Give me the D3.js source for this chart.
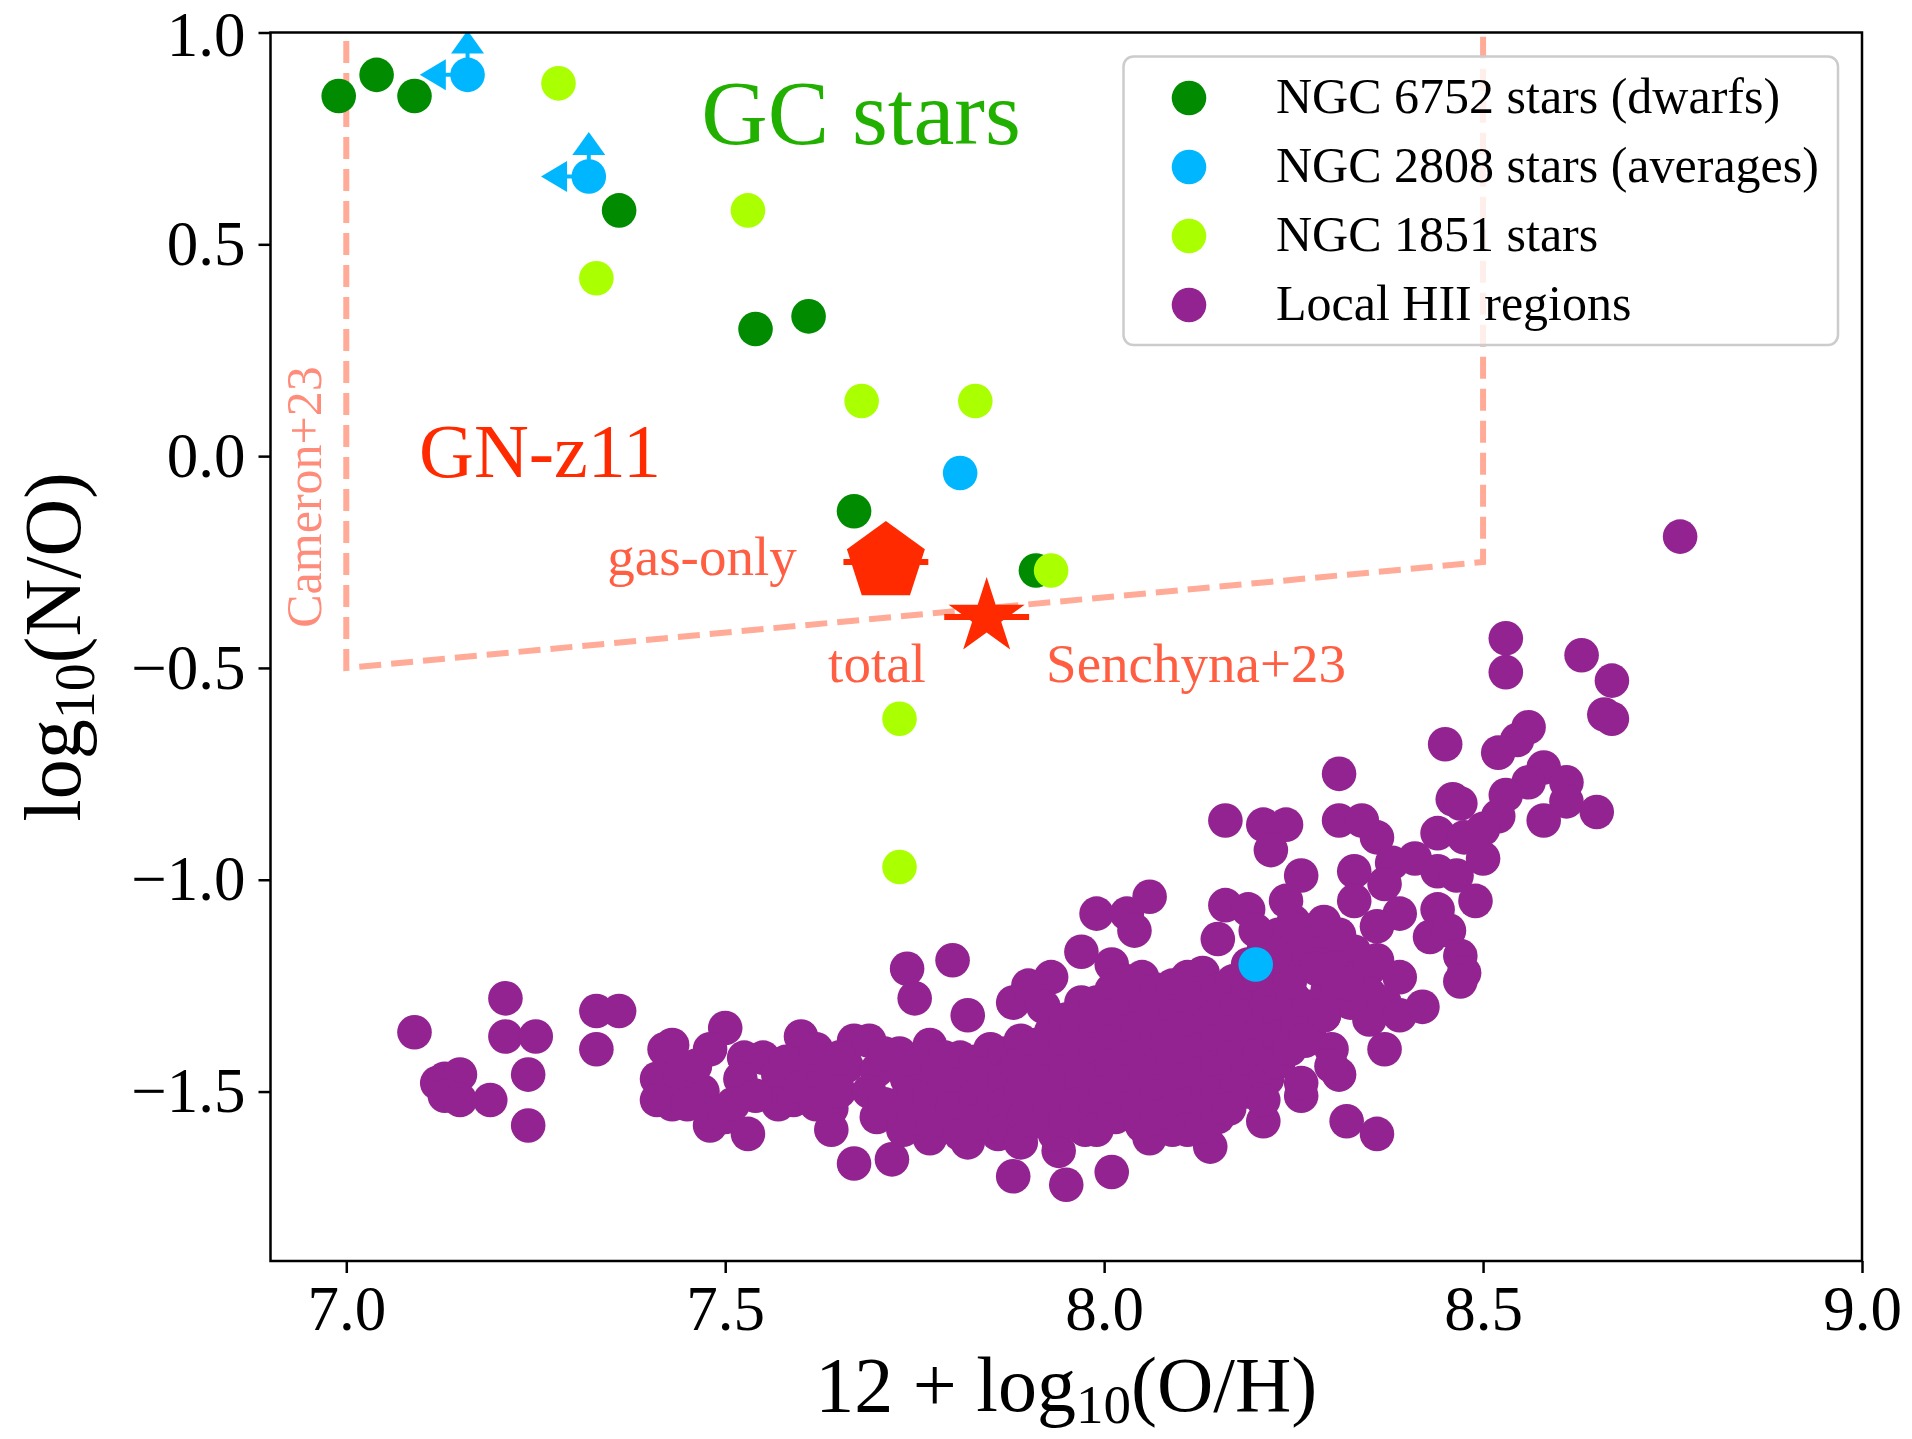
<!DOCTYPE html>
<html>
<head>
<meta charset="utf-8">
<script src="https://cdn.jsdelivr.net/npm/d3@7"></script>
<style>
  body { margin: 0; background: #fff; }
  svg { display: block; }
  text { font-family: "Liberation Serif", "Times New Roman", serif; }
</style>
</head>
<body>
<svg id="chart" width="1912" height="1439"></svg>
<script>
// ---- Globular-cluster stars: 12 + log10(O/H) and log10(N/O) ----
const ngc6752OH = [6.99, 7.04, 7.09, 7.36, 7.54, 7.61, 7.67, 7.91];
const ngc6752NO = [0.85, 0.90, 0.85, 0.58, 0.30, 0.33, -0.13, -0.27];

const ngc2808OH = [7.16, 7.32, 7.81, 8.20];
const ngc2808NO = [0.90, 0.66, -0.04, -1.20];
const ngc2808Limit = [true, true, false, false];   // upper limit in O/H, lower limit in N/O
const limitLenOH = 0.063;
const limitLenNO = 0.105;

const ngc1851OH = [7.28, 7.33, 7.53, 7.68, 7.83, 7.93, 7.73, 7.73];
const ngc1851NO = [0.88, 0.42, 0.58, 0.13, 0.13, -0.27, -0.62, -0.97];

// ---- GN-z11 (gas-only and total abundances) ----
const gnz11Labels = ["gas-only", "total"];
const gnz11OH = [7.712, 7.845];
const gnz11NO = [-0.25, -0.38];
const gnz11ErrOH = [0.056, 0.056];

// ---- Region boundaries from the literature ----
const cameronBoundOH = [7.0, 7.0, 8.5, 8.5];
const cameronBoundNO = [0.98, -0.5, -0.25, 0.99];

// ---- Local HII regions [12+log(O/H), log(N/O)] ----
const hiiRegions = [
  [7.09,-1.36],[7.21,-1.28],[7.21,-1.37],[7.25,-1.37],[7.24,-1.46],[7.24,-1.58],[7.19,-1.52],
  [7.12,-1.48],[7.13,-1.47],[7.15,-1.46],[7.13,-1.51],[7.15,-1.52],
  [7.33,-1.31],[7.36,-1.31],[7.33,-1.40],
  [7.42,-1.40],[7.43,-1.39],[7.41,-1.47],[7.44,-1.46],[7.41,-1.52],[7.43,-1.53],[7.47,-1.50],
  [7.48,-1.58],[7.49,-1.55],[7.53,-1.60],[7.50,-1.35],[7.48,-1.40],
  [7.55,-1.42],[7.57,-1.46],[7.57,-1.53],[7.59,-1.52],[7.61,-1.46],[7.60,-1.37],[7.525,-1.42],[7.50,-1.56],
  [7.46,-1.44],[7.52,-1.47],[7.54,-1.51],[7.58,-1.43],[7.60,-1.49],[7.45,-1.53],[7.51,-1.53],
  [7.67,-1.38],[7.66,-1.44],[7.64,-1.54],[7.64,-1.59],[7.67,-1.67],
  [7.74,-1.21],[7.80,-1.19],[7.75,-1.28],[7.82,-1.32],[7.88,-1.29],[7.90,-1.25],[7.93,-1.23],
  [7.92,-1.30],[7.97,-1.17],[8.01,-1.20],[7.99,-1.08],[8.03,-1.08],[8.04,-1.12],[8.06,-1.04],
  [7.88,-1.70],[7.95,-1.72],[8.01,-1.69],[7.72,-1.66],[8.14,-1.63],[8.21,-1.57],[8.26,-1.51],
  [8.06,-1.61],[8.09,-1.59],[7.77,-1.61],[7.82,-1.62],[7.86,-1.60],[7.94,-1.64],
  [7.62,-1.40],[7.63,-1.47],[7.62,-1.53],[7.65,-1.42],[7.65,-1.50],
  [7.69,-1.38],[7.70,-1.45],[7.69,-1.50],[7.70,-1.56],[7.71,-1.41],[7.71,-1.53],
  [7.73,-1.41],[7.74,-1.47],[7.73,-1.53],[7.735,-1.59],[7.75,-1.44],[7.75,-1.50],[7.75,-1.56],
  [7.77,-1.39],[7.78,-1.45],[7.77,-1.51],[7.775,-1.57],[7.79,-1.42],[7.79,-1.48],[7.79,-1.57],
  [7.81,-1.42],[7.815,-1.48],[7.80,-1.54],[7.81,-1.60],[7.83,-1.43],[7.83,-1.51],[7.83,-1.57],
  [7.85,-1.40],[7.84,-1.46],[7.855,-1.52],[7.85,-1.58],
  [7.87,-1.41],[7.87,-1.47],[7.87,-1.53],[7.87,-1.59],
  [7.89,-1.38],[7.885,-1.44],[7.89,-1.50],[7.895,-1.56],[7.89,-1.62],
  [7.91,-1.39],[7.91,-1.45],[7.91,-1.51],[7.91,-1.57],
  [7.93,-1.36],[7.935,-1.42],[7.925,-1.48],[7.93,-1.54],[7.935,-1.60],
  [7.95,-1.33],[7.95,-1.39],[7.95,-1.45],[7.95,-1.51],[7.95,-1.57],
  [7.97,-1.29],[7.965,-1.35],[7.975,-1.41],[7.97,-1.47],[7.965,-1.53],[7.975,-1.59],
  [7.99,-1.29],[7.99,-1.35],[7.99,-1.41],[7.99,-1.47],[7.99,-1.53],[7.99,-1.59],
  [8.01,-1.26],[8.005,-1.32],[8.015,-1.38],[8.01,-1.44],[8.005,-1.50],[8.015,-1.56],
  [8.03,-1.24],[8.03,-1.30],[8.03,-1.36],[8.03,-1.42],[8.03,-1.48],[8.03,-1.54],
  [8.05,-1.23],[8.055,-1.29],[8.045,-1.35],[8.05,-1.41],[8.055,-1.47],[8.045,-1.53],[8.05,-1.58],
  [8.07,-1.26],[8.07,-1.32],[8.07,-1.38],[8.07,-1.44],[8.07,-1.50],[8.07,-1.56],
  [8.09,-1.25],[8.095,-1.31],[8.085,-1.37],[8.09,-1.43],[8.095,-1.49],[8.085,-1.55],
  [8.11,-1.23],[8.11,-1.29],[8.11,-1.35],[8.11,-1.41],[8.11,-1.47],[8.11,-1.53],[8.11,-1.59],
  [8.13,-1.22],[8.125,-1.28],[8.135,-1.34],[8.13,-1.40],[8.125,-1.46],[8.135,-1.52],[8.13,-1.58],
  [8.15,-1.26],[8.15,-1.32],[8.15,-1.38],[8.15,-1.44],[8.15,-1.50],[8.15,-1.56],
  [8.17,-1.24],[8.175,-1.30],[8.165,-1.36],[8.17,-1.42],[8.175,-1.48],[8.165,-1.54],
  [8.19,-1.20],[8.19,-1.26],[8.19,-1.32],[8.19,-1.38],[8.19,-1.44],[8.19,-1.50],
  [8.21,-1.17],[8.205,-1.23],[8.215,-1.29],[8.21,-1.35],[8.205,-1.41],[8.215,-1.47],[8.21,-1.52],
  [8.23,-1.13],[8.23,-1.19],[8.23,-1.25],[8.23,-1.31],[8.23,-1.37],[8.23,-1.43],
  [8.25,-1.10],[8.255,-1.16],[8.245,-1.22],[8.25,-1.28],[8.255,-1.34],[8.245,-1.40],
  [8.27,-1.12],[8.27,-1.18],[8.27,-1.30],[8.27,-1.36],
  [8.29,-1.14],[8.285,-1.20],[8.295,-1.26],[8.29,-1.32],[8.31,-1.20],[8.31,-1.26],
  [8.33,-1.17],[8.335,-1.23],[8.325,-1.29],[8.35,-1.21],[8.35,-1.27],[8.35,-1.33],
  [8.53,-0.43],[8.53,-0.51],[8.63,-0.47],[8.67,-0.53],[8.66,-0.61],[8.67,-0.62],[8.56,-0.64],
  [8.545,-0.67],[8.45,-0.68],[8.52,-0.70],[8.58,-0.735],[8.56,-0.77],[8.61,-0.77],[8.53,-0.80],
  [8.61,-0.815],[8.65,-0.84],[8.58,-0.86],[8.52,-0.85],[8.31,-0.75],[8.46,-0.81],[8.47,-0.82],
  [8.44,-0.89],[8.475,-0.90],[8.50,-0.88],[8.16,-0.86],[8.21,-0.87],[8.24,-0.87],[8.22,-0.93],
  [8.31,-0.86],[8.34,-0.86],[8.36,-0.90],[8.26,-0.99],[8.33,-0.98],[8.38,-0.96],[8.41,-0.95],
  [8.44,-0.98],[8.465,-0.99],[8.50,-0.95],[8.49,-1.05],[8.44,-1.07],[8.33,-1.05],[8.37,-1.01],
  [8.39,-1.08],[8.36,-1.11],[8.16,-1.06],[8.19,-1.07],[8.24,-1.05],[8.15,-1.14],[8.20,-1.12],
  [8.29,-1.10],[8.31,-1.13],[8.43,-1.135],[8.455,-1.12],[8.47,-1.18],[8.475,-1.22],[8.47,-1.24],
  [8.36,-1.19],[8.39,-1.23],[8.32,-1.245],[8.37,-1.29],[8.39,-1.32],[8.42,-1.30],[8.29,-1.32],
  [8.37,-1.40],[8.30,-1.40],[8.31,-1.46],[8.26,-1.48],[8.32,-1.57],[8.36,-1.60],
  [8.255,-1.15],[8.28,-1.21],[8.245,-1.24],[8.225,-1.18],[8.265,-1.38],[8.30,-1.44],
  [8.76,-0.19]
];

// ---- Axes ----
const xDomain = [6.9, 9.0];
const yDomain = [-1.9, 1.0];
const xTicks = [7.0, 7.5, 8.0, 8.5, 9.0];
const yTicks = [-1.5, -1.0, -0.5, 0.0, 0.5, 1.0];

const legendLabels = ["NGC 6752 stars (dwarfs)", "NGC 2808 stars (averages)", "NGC 1851 stars", "Local HII regions"];
const colors = {
  ngc6752: "#008b00",
  ngc2808: "#00b7ff",
  ngc1851: "#aaff00",
  hii: "#922390",
  gnz11: "#ff2a00",
  boundary: "#ffab98"
};

const svg = d3.select("#chart");
const plot = { left: 270.5, right: 1862, top: 32.5, bottom: 1261 };
const x = d3.scaleLinear().domain(xDomain).range([plot.left, plot.right]);
const y = d3.scaleLinear().domain(yDomain).range([plot.bottom, plot.top]);
const R = 17.3;

svg.append("rect").attr("width", 1912).attr("height", 1439).attr("fill", "#fff");

svg.append("defs").append("clipPath").attr("id", "clip")
  .append("rect").attr("x", plot.left).attr("y", plot.top)
  .attr("width", plot.right - plot.left).attr("height", plot.bottom - plot.top);

const g = svg.append("g").attr("clip-path", "url(#clip)");

// dashed boundary
g.append("path")
  .datum(d3.zip(cameronBoundOH, cameronBoundNO))
  .attr("d", d3.line().x(d => x(d[0])).y(d => y(d[1])))
  .attr("fill", "none").attr("stroke", colors.boundary)
  .attr("stroke-width", 6).attr("stroke-dasharray", "22,10");

// local HII regions
g.selectAll("circle.hii").data(hiiRegions).join("circle")
  .attr("class", "hii").attr("cx", d => x(d[0])).attr("cy", d => y(d[1]))
  .attr("r", R).attr("fill", colors.hii);

// NGC 6752
g.selectAll("circle.n6752").data(d3.zip(ngc6752OH, ngc6752NO)).join("circle")
  .attr("class", "n6752").attr("cx", d => x(d[0])).attr("cy", d => y(d[1]))
  .attr("r", R).attr("fill", colors.ngc6752);

// NGC 2808 with limit arrows
const n2808 = ngc2808OH.map((v, i) => ({ oh: v, no: ngc2808NO[i], lim: ngc2808Limit[i] }));
n2808.filter(d => d.lim).forEach(d => {
  const cx = x(d.oh), cy = y(d.no);
  const tipX = x(d.oh - limitLenOH), tipY = y(d.no + limitLenNO);
  g.append("line").attr("x1", cx).attr("y1", cy).attr("x2", tipX + 20).attr("y2", cy)
    .attr("stroke", colors.ngc2808).attr("stroke-width", 4);
  g.append("line").attr("x1", cx).attr("y1", cy).attr("x2", cx).attr("y2", tipY + 18)
    .attr("stroke", colors.ngc2808).attr("stroke-width", 4);
  g.append("path")
    .attr("d", `M${tipX},${cy} L${tipX + 26},${cy - 15.5} L${tipX + 26},${cy + 15.5} Z`)
    .attr("fill", colors.ngc2808);
  g.append("path")
    .attr("d", `M${cx},${tipY} L${cx - 16.5},${tipY + 23} L${cx + 16.5},${tipY + 23} Z`)
    .attr("fill", colors.ngc2808);
});
g.selectAll("circle.n2808").data(n2808).join("circle")
  .attr("class", "n2808").attr("cx", d => x(d.oh)).attr("cy", d => y(d.no))
  .attr("r", R).attr("fill", colors.ngc2808);

// NGC 1851
g.selectAll("circle.n1851").data(d3.zip(ngc1851OH, ngc1851NO)).join("circle")
  .attr("class", "n1851").attr("cx", d => x(d[0])).attr("cy", d => y(d[1]))
  .attr("r", R).attr("fill", colors.ngc1851);

// GN-z11 markers: pentagon (gas-only) and star (total), with O/H error bars
function polygonPath(cx, cy, radii, n) {
  const pts = radii.map((r, k) => {
    const a = -Math.PI / 2 + k * 2 * Math.PI / n;
    return [cx + r * Math.cos(a), cy + r * Math.sin(a)];
  });
  return "M" + pts.map(p => p.join(",")).join("L") + "Z";
}
gnz11OH.forEach((oh, i) => {
  const cx = x(oh), cy = y(gnz11NO[i]);
  g.append("line")
    .attr("x1", x(oh - gnz11ErrOH[i])).attr("x2", x(oh + gnz11ErrOH[i]))
    .attr("y1", cy).attr("y2", cy)
    .attr("stroke", colors.gnz11).attr("stroke-width", 6);
  let d;
  if (i === 0) {
    d = polygonPath(cx, cy, [41, 41, 41, 41, 41], 5);
  } else {
    const rr = [];
    for (let k = 0; k < 10; k++) rr.push(k % 2 === 0 ? 40 : 40 * 0.381966);
    d = polygonPath(cx, cy, rr, 10);
  }
  g.append("path").attr("d", d).attr("fill", colors.gnz11);
});

// ---- Frame and axes ----
svg.append("rect")
  .attr("x", plot.left).attr("y", plot.top)
  .attr("width", plot.right - plot.left).attr("height", plot.bottom - plot.top)
  .attr("fill", "none").attr("stroke", "#000").attr("stroke-width", 2.5);

const fmt = d3.format(".1f");
const xAxis = svg.append("g").attr("transform", `translate(0,${plot.bottom})`)
  .call(d3.axisBottom(x).tickValues(xTicks).tickFormat(fmt).tickSize(12).tickSizeOuter(0).tickPadding(12));
const yAxis = svg.append("g").attr("transform", `translate(${plot.left},0)`)
  .call(d3.axisLeft(y).tickValues(yTicks).tickFormat(fmt).tickSize(12).tickSizeOuter(0).tickPadding(13));
[xAxis, yAxis].forEach(a => {
  a.select(".domain").remove();
  a.selectAll(".tick line").attr("stroke", "#000").attr("stroke-width", 2.5);
  a.selectAll(".tick text").attr("fill", "#000")
    .style("font-family", '"Liberation Serif", serif').style("font-size", "63px");
});
// keep the topmost y label inside the canvas
yAxis.selectAll(".tick text").filter(d => d === yDomain[1]).attr("dy", "0.37em");

// axis titles
const xl = svg.append("text").attr("x", (plot.left + plot.right) / 2).attr("y", 1411)
  .attr("text-anchor", "middle").style("font-size", "78px").attr("fill", "#000");
xl.append("tspan").text("12 + log");
xl.append("tspan").text("10").style("font-size", "55px").attr("dy", 12);
xl.append("tspan").text("(O/H)").attr("dy", -12);

const yl = svg.append("text")
  .attr("transform", `translate(80,${(plot.top + plot.bottom) / 2}) rotate(-90)`)
  .attr("text-anchor", "middle").style("font-size", "80px").attr("fill", "#000");
yl.append("tspan").text("log");
yl.append("tspan").text("10").style("font-size", "56px").attr("dy", 14);
yl.append("tspan").text("(N/O)").attr("dy", -14);

// ---- Annotations ----
svg.append("text").attr("x", 861).attr("y", 144).attr("text-anchor", "middle")
  .style("font-size", "92px").attr("fill", "#22b000").text("GC stars");
svg.append("text").attr("x", 540).attr("y", 477).attr("text-anchor", "middle")
  .style("font-size", "76px").attr("fill", "#ff2a00").text("GN-z11");
svg.append("text").attr("x", 702).attr("y", 575).attr("text-anchor", "middle")
  .style("font-size", "55px").attr("fill", "#ff5e42").text(gnz11Labels[0]);
svg.append("text").attr("x", 877).attr("y", 682).attr("text-anchor", "middle")
  .style("font-size", "55px").attr("fill", "#ff5e42").text(gnz11Labels[1]);
svg.append("text").attr("x", 1196).attr("y", 682).attr("text-anchor", "middle")
  .style("font-size", "55px").attr("fill", "#ff5e42").text("Senchyna+23");
svg.append("text").attr("transform", "translate(321,497) rotate(-90)").attr("text-anchor", "middle")
  .style("font-size", "50px").attr("fill", "#ff8c7a").text("Cameron+23");

// ---- Legend ----
const leg = svg.append("g");
leg.append("rect").attr("x", 1123.5).attr("y", 56.5).attr("width", 714.5).attr("height", 288.5)
  .attr("rx", 10).attr("fill", "#fff").attr("fill-opacity", 0.8)
  .attr("stroke", "#cccccc").attr("stroke-width", 2.5);
const legColors = [colors.ngc6752, colors.ngc2808, colors.ngc1851, colors.hii];
legendLabels.forEach((lab, i) => {
  const cy = 98 + i * 69;
  leg.append("circle").attr("cx", 1189).attr("cy", cy).attr("r", R).attr("fill", legColors[i]);
  leg.append("text").attr("x", 1276).attr("y", cy + 15).style("font-size", "50px")
    .attr("fill", "#000").text(lab);
});
</script>
</body>
</html>
